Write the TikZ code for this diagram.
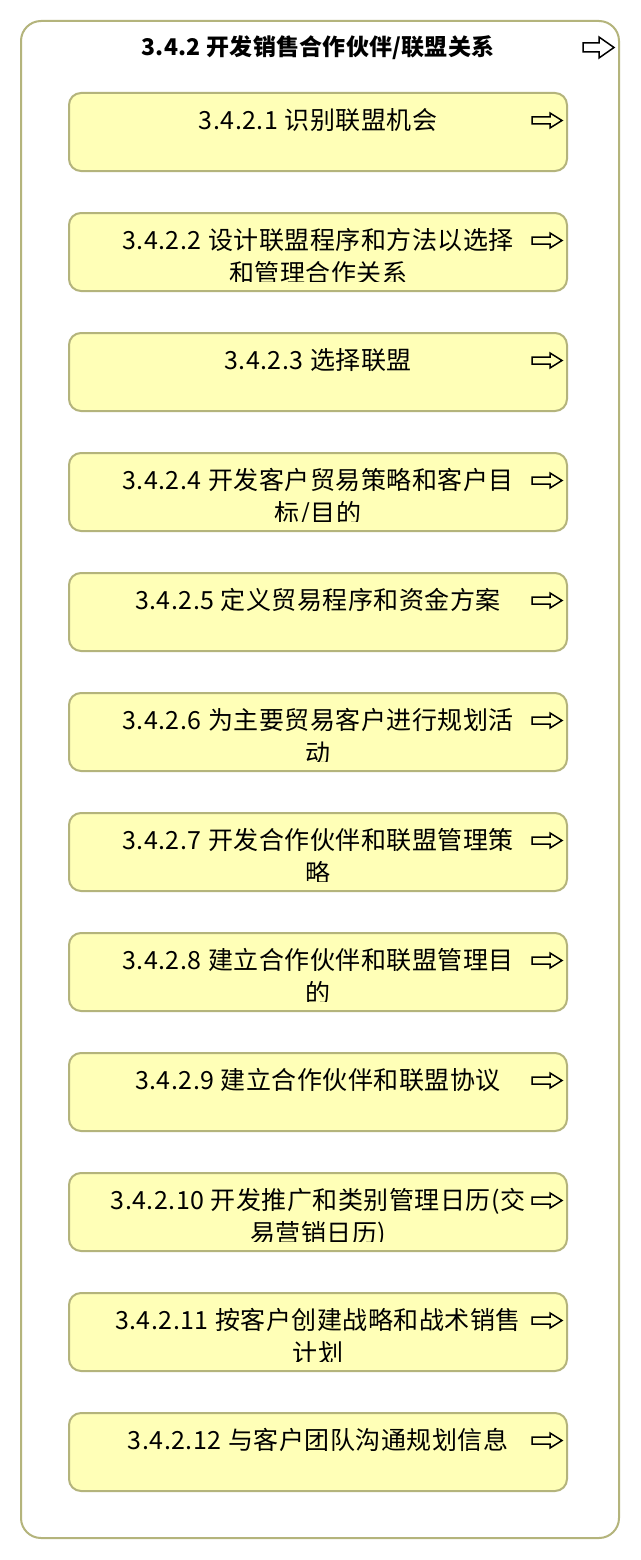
\documentclass[tikz,border=0pt]{standalone}
\usepackage{fontspec}
\setmainfont{Noto Sans CJK SC}
\newfontfamily\boxfont[LetterSpace=2]{Noto Sans CJK SC}
\newfontfamily\titlefont[LetterSpace=1]{Noto Sans CJK SC}
\newcommand\numgap{\hspace{6.5pt}}
\definecolor{boxfill}{RGB}{255,255,183}
\definecolor{boxline}{RGB}{180,180,124}
\tikzset{
  outerbox/.style={draw=boxline, line width=2pt, fill=white, rounded corners=20pt,
    minimum width=598pt, minimum height=1517pt, inner sep=0pt},
  procbox/.style={draw=boxline, line width=2pt, fill=boxfill, rounded corners=12pt,
    minimum width=498pt, minimum height=78pt, inner sep=0pt},
  lbl/.style={anchor=base, inner sep=0pt, font=\boxfont\fontsize{25}{30}\selectfont},
  ttl/.style={anchor=base, inner sep=0pt, font=\titlefont\bfseries\fontsize{23}{28}\selectfont},
  arrowicon/.style={draw=black, line width=1.5pt, line join=miter}
}
\newcommand\rarrow[2]{%
  \draw[arrowicon] (#1,#2) ++(0,-3.5) -- ++(18,0) -- ++(0,-4) -- ++(12,7.5)
    -- ++(-12,7.5) -- ++(0,-4) -- ++(-18,0) -- cycle;}
\newcommand\bigrarrow[2]{%
  \draw[arrowicon] (#1,#2) ++(0,-4.5) -- ++(16,0) -- ++(0,-6) -- ++(15,10.5)
    -- ++(-15,10.5) -- ++(0,-6) -- ++(-16,0) -- cycle;}
\newcommand\procboxone[3]{%
  \node[procbox] (b#1) at (318,#2+39) {};
  \begin{scope}
    \clip[rounded corners=12pt] (69,#2) rectangle (567,#2+68);
    \node[lbl] (t#1a) at (318,#2+36) {#3};
  \end{scope}
  \rarrow{532}{#2+27.5}}
\newcommand\procboxtwo[4]{%
  \node[procbox] (b#1) at (318,#2+39) {};
  \begin{scope}
    \clip[rounded corners=12pt] (69,#2) rectangle (567,#2+68);
    \node[lbl] (t#1a) at (318,#2+36) {#3};
    \node[lbl] (t#1b) at (318,#2+69) {#4};
  \end{scope}
  \rarrow{532}{#2+27.5}}
\begin{document}
\begin{tikzpicture}[x=1pt,y=-1pt]
  \useasboundingbox[fill=white] (0,0) rectangle (640,1560);
  \node[outerbox] (outer) at (320,779.5) {};
  \node[ttl] (title) at (318,56) {3.4.2\hspace{6pt}开发销售合作伙伴/联盟关系};
  \bigrarrow{583}{47.5}
  \procboxone{1}{93}{3.4.2.1\numgap 识别联盟机会}
  \procboxtwo{2}{213}{3.4.2.2\numgap 设计联盟程序和方法以选择}{和管理合作关系}
  \procboxone{3}{333}{3.4.2.3\numgap 选择联盟}
  \procboxtwo{4}{453}{3.4.2.4\numgap 开发客户贸易策略和客户目}{标/目的}
  \procboxone{5}{573}{3.4.2.5\numgap 定义贸易程序和资金方案}
  \procboxtwo{6}{693}{3.4.2.6\numgap 为主要贸易客户进行规划活}{动}
  \procboxtwo{7}{813}{3.4.2.7\numgap 开发合作伙伴和联盟管理策}{略}
  \procboxtwo{8}{933}{3.4.2.8\numgap 建立合作伙伴和联盟管理目}{的}
  \procboxone{9}{1053}{3.4.2.9\numgap 建立合作伙伴和联盟协议}
  \procboxtwo{10}{1173}{3.4.2.10\numgap 开发推广和类别管理日历(交}{易营销日历)}
  \procboxtwo{11}{1293}{3.4.2.11\numgap 按客户创建战略和战术销售}{计划}
  \procboxone{12}{1413}{3.4.2.12\numgap 与客户团队沟通规划信息}
\end{tikzpicture}
\end{document}
